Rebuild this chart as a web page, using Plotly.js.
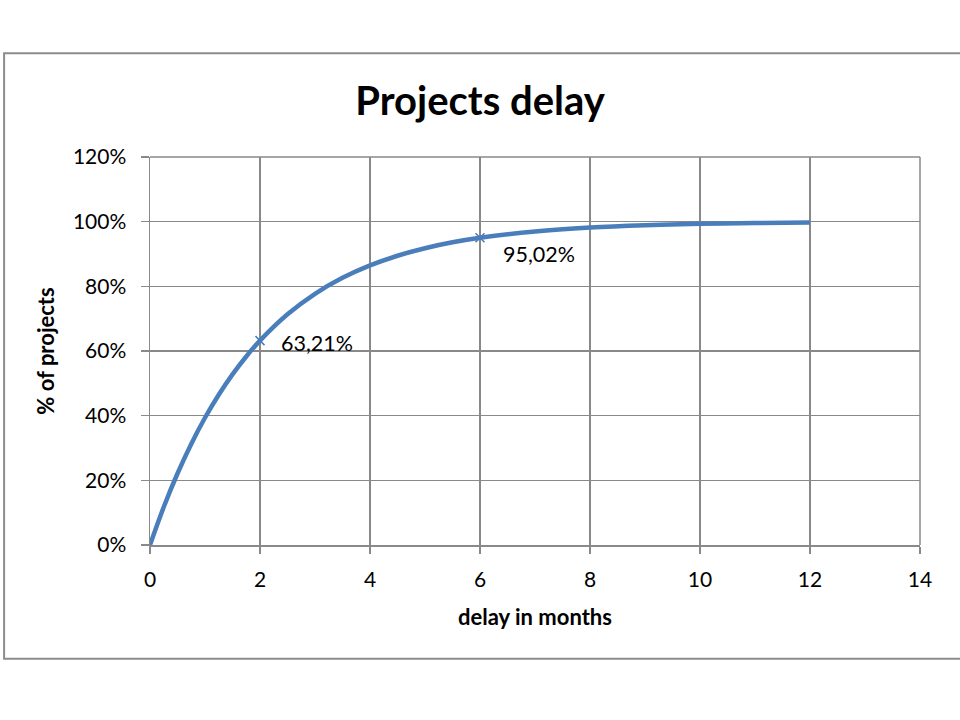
<!DOCTYPE html>
<html>
<head>
<meta charset="utf-8">
<script src="https://cdn.plot.ly/plotly-3.0.1.min.js"></script>
<style>html,body{margin:0;padding:0;background:#fff;}#chart{width:960px;height:720px;}</style>
</head>
<body>
<div id="chart"></div>
<script>
// delay in months
var months = [0, 0.25, 0.5, 0.75, 1, 1.25, 1.5, 1.75, 2, 2.5, 3, 3.5, 4, 4.5, 5, 5.5, 6, 7, 8, 9, 10, 11, 12];
// share of projects (fraction)
var share = [0, 0.1175, 0.2212, 0.3127, 0.3935, 0.4647, 0.5276, 0.5831, 0.6321, 0.7135, 0.7769, 0.8262, 0.8647, 0.8946, 0.9179, 0.9361, 0.9502, 0.9698, 0.9817, 0.9889, 0.9933, 0.9959, 0.9975];
// labelled points
var markX = [2, 6];
var markY = [0.6321, 0.9502];
var markLabels = ['63,21%', '95,02%'];
var yTickVals = [0, 0.2, 0.4, 0.6, 0.8, 1.0, 1.2];
var yTickText = ['0%', '20%', '40%', '60%', '80%', '100%', '120%'];
var xTickVals = [0, 2, 4, 6, 8, 10, 12, 14];

var FONT = 'Lato, "Open Sans", sans-serif';
var BLUE = '#4a7ebb';
var GRID = '#898989';

var traces = [
  {x: months, y: share, mode: 'lines', line: {color: BLUE, width: 4.5, shape: 'spline'}, hoverinfo: 'skip'},
  {x: markX, y: markY, mode: 'markers', marker: {symbol: 'x-thin', size: 9, color: BLUE, line: {color: BLUE, width: 1.5}}, hoverinfo: 'skip'}
];

var offsets = [[19, -2], [21, -16]];
var annotations = markX.map(function (xv, i) {
  return {x: xv, y: markY[i], xref: 'x', yref: 'y', text: markLabels[i], showarrow: false,
    xanchor: 'left', yanchor: 'middle', xshift: offsets[i][0], yshift: offsets[i][1],
    font: {family: FONT, size: 21.5, color: '#000'}};
});

var layout = {
  width: 960, height: 720,
  margin: {l: 149.5, r: 40, t: 156.5, b: 175},
  paper_bgcolor: '#fff', plot_bgcolor: '#fff',
  showlegend: false,
  title: {text: '<b>Projects delay</b>', x: 0.5, xanchor: 'center', y: 1 - 101 / 720, yanchor: 'middle', font: {family: FONT, size: 40, color: '#000'}},
  xaxis: {
    range: [0, 14], tickvals: xTickVals, showgrid: true, gridcolor: GRID, gridwidth: 1.5,
    zeroline: false, showline: true, linecolor: GRID, linewidth: 1.5,
    ticks: 'outside', ticklen: 7, tickcolor: GRID, tickwidth: 1.5, ticklabelstandoff: 8,
    tickfont: {family: FONT, size: 21, color: '#000'},
    title: {text: '<b>delay in months</b>', font: {family: FONT, size: 22, color: '#000'}, standoff: 20}
  },
  yaxis: {
    range: [0, 1.2], tickvals: yTickVals, ticktext: yTickText, showgrid: true, gridcolor: GRID, gridwidth: 1.5,
    zeroline: false, showline: true, linecolor: GRID, linewidth: 1.5,
    ticks: 'outside', ticklen: 8, tickcolor: GRID, tickwidth: 1.5, ticklabelstandoff: 10,
    tickfont: {family: FONT, size: 21, color: '#000'},
    title: {text: '<b>% of projects</b>', font: {family: FONT, size: 22, color: '#000'}, standoff: 12}
  },
  annotations: annotations,
  shapes: [
    {type: 'line', xref: 'paper', yref: 'paper', x0: 1, x1: 1, y0: 0, y1: 1, line: {color: GRID, width: 1.5}},
    {type: 'line', xref: 'paper', yref: 'paper', x0: 0, x1: 1, y0: 1, y1: 1, line: {color: GRID, width: 1.5}},
    {type: 'rect', xref: 'paper', yref: 'paper',
      x0: (3.5 - 149.5) / 770.5, x1: (965 - 149.5) / 770.5,
      y0: (545 - 659) / 388.5, y1: (545 - 52.5) / 388.5,
      line: {color: '#8c8c8c', width: 2}, fillcolor: 'rgba(0,0,0,0)', layer: 'below'}
  ]
};

Plotly.newPlot('chart', traces, layout, {displayModeBar: false, staticPlot: true});
</script>
</body>
</html>
